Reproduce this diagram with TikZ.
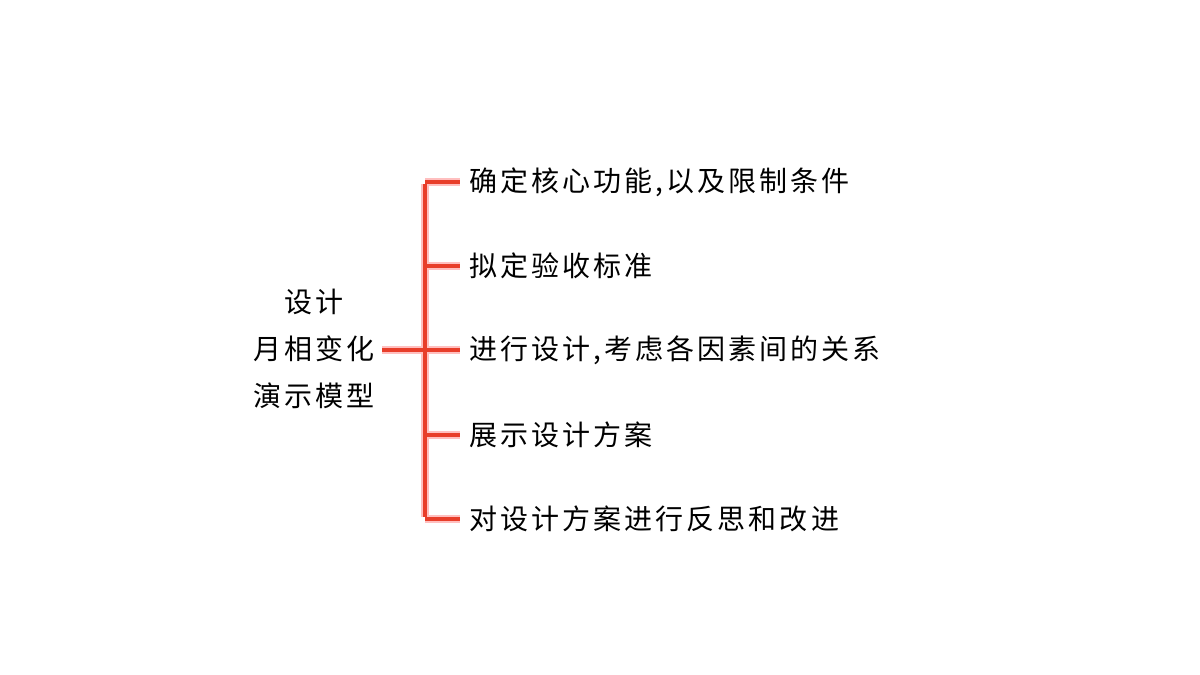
\documentclass[tikz,border=0pt]{standalone}
\usepackage{fontspec}
\newfontfamily\cjk[LetterSpace=11]{Noto Sans CJK SC}
\begin{document}
\begin{tikzpicture}[x=1pt,y=-1pt,
  lbl/.style={anchor=west,inner sep=0pt,font=\cjk\fontsize{28pt}{47pt}\selectfont},
  halo/.style={draw=red!25,line width=8pt},
  br/.style={draw={rgb,255:red,232;green,62;blue,42},line width=4pt}]
\useasboundingbox (0,0) rectangle (1200,675);
\node[inner sep=0pt,align=center,font=\cjk\fontsize{28pt}{47pt}\selectfont] (root) at (314,349) {设计\\月相变化\\演示模型};
\node[lbl] (a) at (469,182) {确定核心功能,以及限制条件};
\node[lbl] (b) at (469,266) {拟定验收标准};
\node[lbl] (c) at (469,350) {进行设计,考虑各因素间的关系};
\node[lbl] (d) at (469,435) {展示设计方案};
\node[lbl] (e) at (469,519) {对设计方案进行反思和改进};
\coordinate (top) at (425,182);
\coordinate (bot) at (425,519);
\coordinate (mid) at (425,350);
\coordinate (rs) at (382,350);
\foreach \s in {halo,br}{
  \draw[\s] (rs) -- (mid);
  \draw[\s] (top |- a.west) -- ([xshift=-9pt]a.west);
  \draw[\s] (top |- b.west) -- ([xshift=-9pt]b.west);
  \draw[\s] (top |- c.west) -- ([xshift=-9pt]c.west);
  \draw[\s] (top |- d.west) -- ([xshift=-9pt]d.west);
  \draw[\s] (top |- e.west) -- ([xshift=-9pt]e.west);
  \draw[\s] ([yshift=-2pt]top |- a.west) -- ([yshift=2pt]bot |- e.west);
}
\end{tikzpicture}
\end{document}
